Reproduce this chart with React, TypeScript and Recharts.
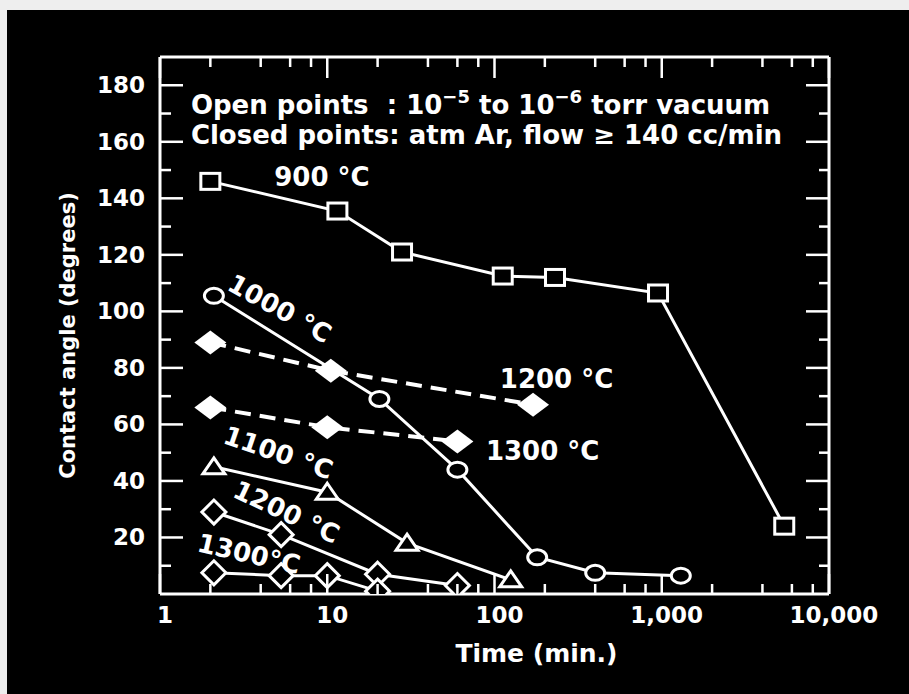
import { ComposedChart, Label, Line, Scatter, XAxis, YAxis } from 'recharts';

// Time (min.) / contact angle (degrees)
const time900 = [2, 11.5, 28, 112, 230, 950, 5400];
const angle900 = [146, 135.5, 121, 112.5, 112, 106.5, 24];

const time1000 = [2.1, 20.5, 60, 180, 400, 1300];
const angle1000 = [105.5, 69, 44, 13, 7.5, 6.5];

const time1100 = [2.1, 10, 30, 125];
const angle1100 = [45, 36, 18, 5];

const time1200open = [2.1, 5.3, 20, 60];
const angle1200open = [29, 21, 7, 3];

const time1300open = [2.1, 5.3, 10, 20];
const angle1300open = [7.5, 6.5, 6.5, 1];

const time1200closed = [2, 10.5, 170];
const angle1200closed = [89, 79, 67];

const time1300closed = [2, 10, 60];
const angle1300closed = [66, 59, 54];

const majorTimes = [1, 10, 100, 1000, 10000];
const majorTimeLabels = ['1', '10', '100', '1,000', '10,000'];
const minorTimes = [2, 4, 6, 8, 20, 40, 60, 80, 200, 400, 600, 800, 2000, 4000, 6000, 8000];
const majorAngles = [20, 40, 60, 80, 100, 120, 140, 160, 180];
const minorAngles = [10, 30, 50, 70, 90, 110, 130, 150, 170];

const tempLabels = [
  { x: 9.3, y: 147.5, text: '900 °C', tilt: 0 },
  { x: 5.2, y: 101, text: '1000 °C', tilt: 29 },
  { x: 235, y: 76, text: '1200 °C', tilt: 0 },
  { x: 194, y: 50.5, text: '1300 °C', tilt: 0 },
  { x: 5.1, y: 50, text: '1100 °C', tilt: 19 },
  { x: 5.7, y: 29, text: '1200 °C', tilt: 25 },
  { x: 3.4, y: 14.2, text: '1300°C', tilt: 13 },
];

const noteLines = [
  {
    x: 1.53,
    y: 173,
    parts: [
      { t: 'Open points  : 10' },
      { t: '−5', sup: true },
      { t: ' to 10' },
      { t: '−6', sup: true },
      { t: ' torr vacuum' },
    ],
  },
  { x: 1.53, y: 162.5, parts: [{ t: 'Closed points: atm Ar, flow ≥ 140 cc/min' }] },
];

const zip = (xs: number[], ys: number[]) => xs.map((x, i) => ({ x, y: ys[i] }));

const FONT = '"DejaVu Sans", Verdana, sans-serif';
const INK = '#fff';
const BG = '#000';

const allTimeTicks = [...majorTimes, ...minorTimes].sort((a, b) => a - b);
const allAngleTicks = [...majorAngles, ...minorAngles].sort((a, b) => a - b);

const squareDot = (p: any) => {
  const { cx, cy, key } = p;
  if (cx == null || cy == null) return <g key={key} />;
  return (
    <rect key={key} x={cx - 9.5} y={cy - 8} width={19} height={16} fill={BG} stroke={INK} strokeWidth={3} />
  );
};

const circleDot = (p: any) => {
  const { cx, cy, key } = p;
  if (cx == null || cy == null) return <g key={key} />;
  return <ellipse key={key} cx={cx} cy={cy} rx={9.5} ry={7.5} fill={BG} stroke={INK} strokeWidth={3} />;
};

const triangleDot = (p: any) => {
  const { cx, cy, key } = p;
  if (cx == null || cy == null) return <g key={key} />;
  const pts = `${cx},${cy - 9} ${cx + 11},${cy + 7} ${cx - 11},${cy + 7}`;
  return <polygon key={key} points={pts} fill={BG} stroke={INK} strokeWidth={3} strokeLinejoin="miter" />;
};

const openDiamondDot = (p: any) => {
  const { cx, cy, key } = p;
  if (cx == null || cy == null) return <g key={key} />;
  const pts = `${cx},${cy - 12} ${cx + 12},${cy} ${cx},${cy + 12} ${cx - 12},${cy}`;
  return <polygon key={key} points={pts} fill={BG} stroke={INK} strokeWidth={3} />;
};

const filledDiamondDot = (p: any) => {
  const { cx, cy, key } = p;
  if (cx == null || cy == null) return <g key={key} />;
  const pts = `${cx},${cy - 12} ${cx + 16},${cy} ${cx},${cy + 12} ${cx - 16},${cy}`;
  return <polygon key={key} points={pts} fill={INK} stroke="none" strokeDasharray="none" />;
};

function BottomTick(props: any) {
  const { x, y, payload } = props;
  const i = majorTimes.indexOf(payload.value);
  const major = i >= 0;
  return (
    <g>
      <line x1={x} x2={x} y1={y} y2={y - (major ? 20 : 10)} stroke={INK} strokeWidth={2.5} />
      {major && (
        <text
          x={x + 5}
          y={y + 29}
          textAnchor="middle"
          fill={INK}
          fontSize={23}
          fontWeight="bold"
          fontFamily={FONT}
        >
          {majorTimeLabels[i]}
        </text>
      )}
    </g>
  );
}

function TopTick(props: any) {
  const { x, y, payload } = props;
  const major = majorTimes.includes(payload.value);
  return <line x1={x} x2={x} y1={y} y2={y + (major ? 21 : 10)} stroke={INK} strokeWidth={2.5} />;
}

function LeftTick(props: any) {
  const { x, y, payload } = props;
  const major = majorAngles.includes(payload.value);
  return (
    <g>
      <line x1={x} x2={x + (major ? 23 : 11)} y1={y} y2={y} stroke={INK} strokeWidth={2.5} />
      {major && (
        <text
          x={x - 15}
          y={y}
          textAnchor="end"
          dominantBaseline="central"
          fill={INK}
          fontSize={23}
          fontWeight="bold"
          fontFamily={FONT}
        >
          {payload.value}
        </text>
      )}
    </g>
  );
}

function RightTick(props: any) {
  const { x, y, payload } = props;
  const major = majorAngles.includes(payload.value);
  return <line x1={x} x2={x - (major ? 23 : 10)} y1={y} y2={y} stroke={INK} strokeWidth={2.5} />;
}

const TempLabel = (p: any) => {
  const { cx, cy, payload } = p;
  if (cx == null || cy == null) return <g />;
  return (
    <text
      x={cx}
      y={cy}
      transform={`rotate(${payload.tilt} ${cx} ${cy})`}
      textAnchor="middle"
      dominantBaseline="central"
      fill={INK}
      fontSize={26}
      fontWeight="bold"
      fontFamily={FONT}
    >
      {payload.text}
    </text>
  );
};

const NoteLine = (p: any) => {
  const { cx, cy, payload } = p;
  if (cx == null || cy == null) return <g />;
  let raised = false;
  return (
    <text
      x={cx}
      y={cy + 9}
      fill={INK}
      fontSize={26}
      fontFamily={FONT}
      fontWeight="bold"
      style={{ whiteSpace: 'pre' }}
    >
      {payload.parts.map((part: any, i: number) => {
        let dy = 0;
        if (part.sup && !raised) {
          dy = -11;
          raised = true;
        } else if (!part.sup && raised) {
          dy = 11;
          raised = false;
        }
        return (
          <tspan key={i} dy={dy} fontSize={part.sup ? 18 : 26}>
            {part.t}
          </tspan>
        );
      })}
    </text>
  );
};

const XTitle = (p: any) => {
  const { x, y, width } = p.viewBox;
  return (
    <text
      x={x + width / 2 + 42}
      y={y + 59}
      textAnchor="middle"
      dominantBaseline="central"
      fill={INK}
      fontSize={25}
      fontWeight="bold"
      fontFamily={FONT}
    >
      Time (min.)
    </text>
  );
};

const YTitle = (p: any) => {
  const { x, y, height } = p.viewBox;
  const cx = x - 32;
  const cy = y + height / 2 + 10;
  return (
    <text
      x={cx}
      y={cy}
      transform={`rotate(-90 ${cx} ${cy})`}
      textAnchor="middle"
      dominantBaseline="central"
      fill={INK}
      fontSize={21}
      fontWeight="bold"
      fontFamily={FONT}
    >
      Contact angle (degrees)
    </text>
  );
};

export default function App() {
  const solid = { stroke: INK, strokeWidth: 3, type: 'linear' as const, isAnimationActive: false, dataKey: 'y' };
  const dashed = { ...solid, strokeWidth: 4, strokeDasharray: '16 9' };

  return (
    <div style={{ position: 'absolute', left: 0, top: 0, width: 909, height: 694, background: '#eeeeee' }}>
      <div style={{ position: 'absolute', left: 7, top: 10, right: 0, bottom: 0, background: BG }} />
      <div style={{ position: 'absolute', left: 0, top: 0 }}>
        <ComposedChart width={909} height={694} margin={{ top: 56, right: 79, bottom: 40, left: 100 }}>
          <XAxis
            dataKey="x"
            type="number"
            scale="log"
            domain={[1, 10000]}
            allowDataOverflow
            ticks={allTimeTicks}
            interval={0}
            tickSize={0}
            tickMargin={0}
            tickLine={false}
            tick={<BottomTick />}
            axisLine={{ stroke: INK, strokeWidth: 3 }}
            height={60}
          >
            <Label content={XTitle} />
          </XAxis>
          <XAxis
            xAxisId="top"
            orientation="top"
            dataKey="x"
            type="number"
            scale="log"
            domain={[1, 10000]}
            allowDataOverflow
            ticks={allTimeTicks}
            interval={0}
            tickSize={0}
            tickMargin={0}
            tickLine={false}
            tick={<TopTick />}
            axisLine={{ stroke: INK, strokeWidth: 3 }}
            height={1}
          />
          <YAxis
            type="number"
            domain={[0, 190]}
            allowDataOverflow
            ticks={allAngleTicks}
            interval={0}
            tickSize={0}
            tickMargin={0}
            tickLine={false}
            tick={<LeftTick />}
            axisLine={{ stroke: INK, strokeWidth: 3 }}
            width={60}
          >
            <Label content={YTitle} />
          </YAxis>
          <YAxis
            yAxisId="right"
            orientation="right"
            type="number"
            domain={[0, 190]}
            allowDataOverflow
            ticks={allAngleTicks}
            interval={0}
            tickSize={0}
            tickMargin={0}
            tickLine={false}
            tick={<RightTick />}
            axisLine={{ stroke: INK, strokeWidth: 3 }}
            width={1}
          />

          <Line {...dashed} data={zip(time1200closed, angle1200closed)} dot={filledDiamondDot} />
          <Line {...dashed} data={zip(time1300closed, angle1300closed)} dot={filledDiamondDot} />
          <Line {...solid} data={zip(time900, angle900)} dot={squareDot} />
          <Line {...solid} data={zip(time1000, angle1000)} dot={circleDot} />
          <Line {...solid} data={zip(time1100, angle1100)} dot={triangleDot} />
          <Line {...solid} data={zip(time1200open, angle1200open)} dot={openDiamondDot} />
          <Line {...solid} data={zip(time1300open, angle1300open)} dot={openDiamondDot} />

          <Scatter data={tempLabels} dataKey="y" shape={TempLabel} isAnimationActive={false} />
          <Scatter data={noteLines} dataKey="y" shape={NoteLine} isAnimationActive={false} />
        </ComposedChart>
      </div>
    </div>
  );
}
